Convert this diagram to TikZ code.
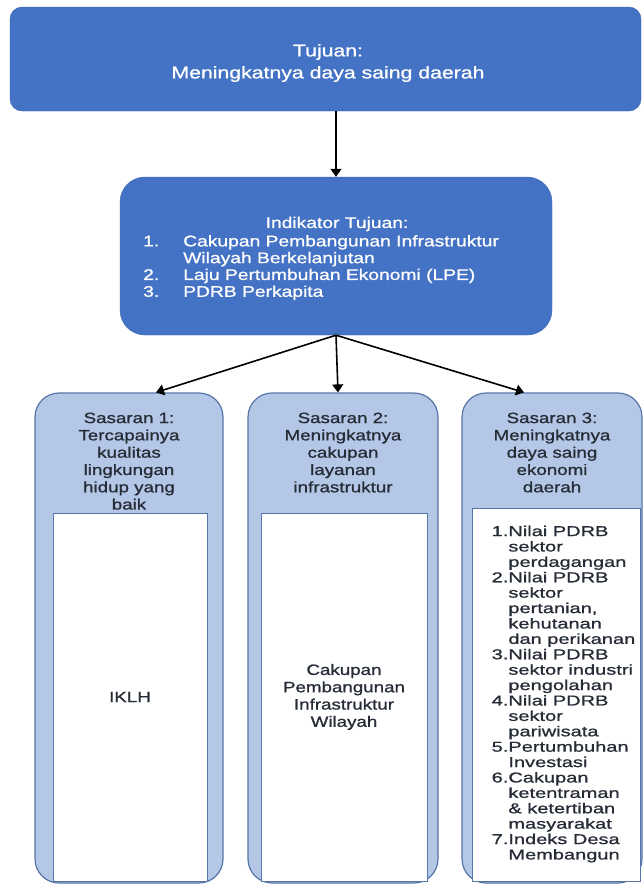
\documentclass[tikz,border=0pt]{standalone}
\usepackage{fontspec}
\setmainfont{Liberation Sans}[FakeStretch=1.25, FakeBold=1]
\newfontfamily\listfont{Liberation Sans}[FakeStretch=1.4, FakeBold=1]
\usepackage{tikz}
\usetikzlibrary{positioning,arrows.meta}
\definecolor{dkblue}{HTML}{4472C4}
\definecolor{dkline}{HTML}{3862B0}
\definecolor{ltblue}{HTML}{B4C7E7}
\definecolor{ltline}{HTML}{5676A8}
\definecolor{txtgray}{HTML}{262C36}

\begin{document}
\begin{tikzpicture}[x=1pt, y=1pt, inner sep=0pt,
    tujbox/.style = {draw=dkline, fill=dkblue, rounded corners=12pt},
    wtext/.style = {text=white, align=center},
    sasbox/.style = {draw=ltline, fill=ltblue, line width=1.2pt, rounded corners=24pt, minimum height=490pt},
    kbox/.style = {draw=ltline, fill=white, line width=1pt, minimum height=368pt, text=txtgray, align=center, font=\fontsize{15}{17.3}\selectfont},
    head/.style = {text=txtgray, align=center, font=\fontsize{15}{17.3}\selectfont},
    arr/.style = {-{Triangle[width=11pt,length=8pt]}, line width=1.6pt}]
  \useasboundingbox (0,0) rectangle (643,-884);
  \node[tujbox, minimum width=631pt, minimum height=104pt] (tuj) at (325.5,-59) {};
  \node[wtext, font=\fontsize{17}{22}\selectfont] (tujt) at (328,-63) {Tujuan:\\Meningkatnya daya saing daerah};
  \node[tujbox, rounded corners=25pt, minimum width=432pt, minimum height=158pt] (ind) at (336,-256) {};
  \node[wtext, font=\fontsize{15.4}{16.5}\selectfont] (indt) at (337,-224) {Indikator Tujuan:};
  \node[wtext, font=\fontsize{15.4}{16.8}\selectfont, align=left, anchor=north west] (indl) at (143,-235)
    {1.\hspace{24pt}Cakupan Pembangunan Infrastruktur\\
     \hphantom{1.}\hspace{24pt}Wilayah Berkelanjutan\\
     2.\hspace{24pt}Laju Pertumbuhan Ekonomi (LPE)\\
     3.\hspace{24pt}PDRB Perkapita};

  \node[sasbox, minimum width=188pt] (s1) at (129,-638) {};
  \node[sasbox, minimum width=190pt] (s2) at (343,-638) {};
  \node[sasbox, minimum width=180pt] (s3) at (552,-638) {};
  \node[kbox, minimum width=154pt] (k1) at (130,-697) {IKLH};
  \node[kbox, minimum width=166pt] (k2) at (344,-697) {Cakupan\\Pembangunan\\Infrastruktur\\Wilayah};
  \node[kbox, minimum width=168pt, minimum height=373pt] (k3) at (556,-694.5) {};

  \node[head, below=20pt of s1.north] (h1) {Sasaran 1:\\Tercapainya\\kualitas\\lingkungan\\hidup yang\\baik};
  \node[head, below=20pt of s2.north] (h2) {Sasaran 2:\\Meningkatnya\\cakupan\\layanan\\infrastruktur};
  \node[head, below=20pt of s3.north] (h3) {Sasaran 3:\\Meningkatnya\\daya saing\\ekonomi\\daerah};
  \node[text=txtgray, align=left, anchor=north west, font=\listfont\fontsize{14.3}{15.4}\selectfont] (k3l) at ([xshift=20pt,yshift=-18pt]k3.north west)
    {1.Nilai PDRB\\ \hphantom{1.}sektor\\ \hphantom{1.}perdagangan\\
     2.Nilai PDRB\\ \hphantom{2.}sektor\\ \hphantom{2.}pertanian,\\ \hphantom{2.}kehutanan\\ \hphantom{2.}dan perikanan\\
     3.Nilai PDRB\\ \hphantom{3.}sektor industri\\ \hphantom{3.}pengolahan\\
     4.Nilai PDRB\\ \hphantom{4.}sektor\\ \hphantom{4.}pariwisata\\
     5.Pertumbuhan\\ \hphantom{5.}Investasi\\
     6.Cakupan\\ \hphantom{6.}ketentraman\\ \hphantom{6.}\& ketertiban\\ \hphantom{6.}masyarakat\\
     7.Indeks Desa\\ \hphantom{7.}Membangun};

  \draw[arr] (tuj.south -| ind.north) -- (ind.north);
  \draw[arr] (ind.south) -- ([xshift=27pt]s1.north);
  \draw[arr] (ind.south) -- ([xshift=-5pt]s2.north);
  \draw[arr] (ind.south) -- ([xshift=-28pt]s3.north);
\end{tikzpicture}
\end{document}
